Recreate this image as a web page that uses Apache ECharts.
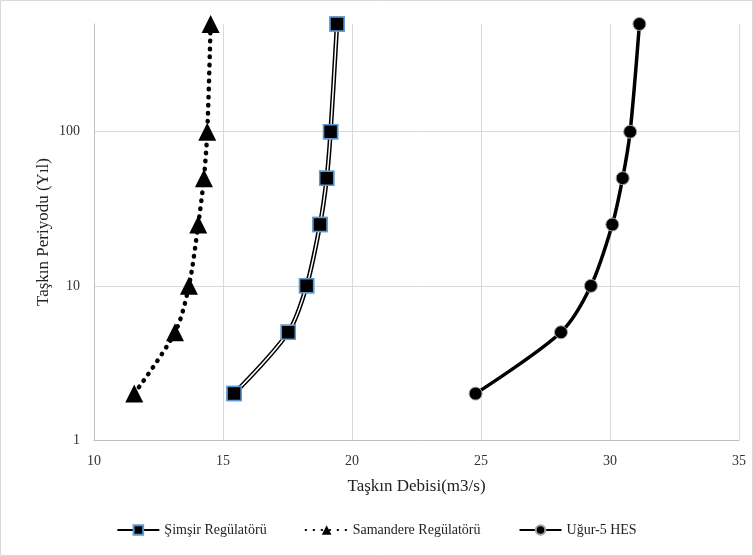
<!DOCTYPE html>
<html>
<head>
<meta charset="utf-8">
<script src="https://cdn.jsdelivr.net/npm/echarts@6/dist/echarts.min.js"></script>
<style>
    html, body { margin: 0; padding: 0; background: #fff; }
    #main { width: 753px; height: 556px; }
</style>
</head>
<body>
<div id="main"></div>
<script>
// return periods (years) on the y axis
const periods = [2, 5, 10, 25, 50, 100, 500];
// flood discharge (m3/s) per station
const simsir = [15.43, 17.53, 18.24, 18.76, 19.02, 19.17, 19.42];
const samandere = [11.56, 13.14, 13.68, 14.04, 14.26, 14.39, 14.52];
const ugur5 = [24.79, 28.1, 29.26, 30.09, 30.49, 30.78, 31.14];

const seriesNames = ['Şimşir Regülatörü', 'Samandere Regülatörü', 'Uğur-5 HES'];

function pairs(xs) {
    return xs.map(function (x, i) { return [x, periods[i]]; });
}

const chart = echarts.init(document.getElementById('main'), null, { renderer: 'canvas' });

const font = 'Liberation Serif';
const squareStyle = { color: '#000', borderColor: '#5b9bd5', borderWidth: 1.5 };

const option = {
    backgroundColor: '#ffffff',
    animation: false,
    textStyle: { fontFamily: font },
    graphic: [{
        type: 'rect',
        shape: { x: 0.5, y: 0.5, width: 752, height: 555 },
        style: { fill: 'none', stroke: '#d9d9d9', lineWidth: 1 },
        silent: true
    }],
    grid: {
        left: 94,
        right: 14,
        top: 24,
        bottom: 116
    },
    legend: {
        data: seriesNames,
        bottom: 14,
        left: 'center',
        itemWidth: 42,
        itemHeight: 12,
        itemGap: 38,
        textStyle: { fontFamily: font, fontSize: 14, color: '#222' }
    },
    xAxis: {
        type: 'value',
        min: 10,
        max: 35,
        interval: 5,
        name: 'Taşkın Debisi(m3/s)',
        nameLocation: 'middle',
        nameGap: 38,
        nameTextStyle: { fontFamily: font, fontSize: 17, color: '#222' },
        axisLine: { show: true, lineStyle: { color: '#bfbfbf' } },
        axisTick: { show: false },
        axisLabel: { fontFamily: font, fontSize: 14, color: '#333', margin: 14 },
        splitLine: { show: true, lineStyle: { color: '#d9d9d9' } }
    },
    yAxis: {
        type: 'log',
        logBase: 10,
        min: 1,
        max: 500,
        name: 'Taşkın Periyodu (Yıl)',
        nameLocation: 'middle',
        nameGap: 42,
        nameMoveOverlap: false,
        nameTextStyle: { fontFamily: font, fontSize: 17, color: '#222' },
        axisLine: { show: true, lineStyle: { color: '#bfbfbf' } },
        axisTick: { show: false },
        axisLabel: { fontFamily: font, fontSize: 14, color: '#333', margin: 14, showMaxLabel: false },
        splitLine: { show: true, showMaxLine: false, lineStyle: { color: '#d9d9d9' } }
    },
    series: [
        {
            name: seriesNames[0],
            type: 'line',
            smooth: 0.3,
            data: pairs(simsir),
            symbol: 'rect',
            symbolSize: 14,
            lineStyle: { color: '#000', width: 4.5 },
            itemStyle: squareStyle,
            z: 2
        },
        {
            // white core of the double line
            name: 'simsir-core',
            type: 'line',
            smooth: 0.3,
            data: pairs(simsir),
            symbol: 'none',
            lineStyle: { color: '#fff', width: 1.5 },
            z: 3
        },
        {
            // markers drawn again above the core line
            name: 'simsir-marks',
            type: 'line',
            data: pairs(simsir),
            symbol: 'rect',
            symbolSize: 14,
            showSymbol: true,
            lineStyle: { width: 0, opacity: 0 },
            itemStyle: squareStyle,
            z: 4
        },
        {
            name: seriesNames[1],
            type: 'line',
            smooth: 0.3,
            data: pairs(samandere),
            symbol: 'triangle',
            symbolSize: 18,
            lineStyle: { color: '#000', width: 4.5, type: [0.5, 7.5], cap: 'round' },
            itemStyle: { color: '#000' },
            z: 2
        },
        {
            name: seriesNames[2],
            type: 'line',
            smooth: 0.3,
            data: pairs(ugur5),
            symbol: 'circle',
            symbolSize: 13,
            lineStyle: { color: '#000', width: 3.5 },
            itemStyle: { color: '#000', borderColor: '#a6a6a6', borderWidth: 1 },
            z: 2
        }
    ]
};

chart.setOption(option);
</script>
</body>
</html>
